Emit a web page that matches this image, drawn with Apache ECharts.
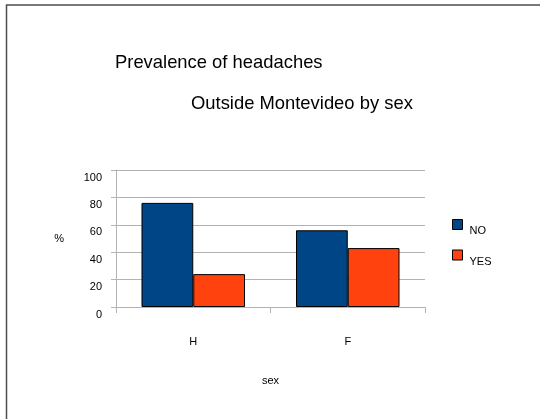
<!DOCTYPE html>
<html>
<head>
<meta charset="utf-8">
<script src="https://cdn.jsdelivr.net/npm/echarts@6/dist/echarts.min.js"></script>
<style>
  html, body { margin: 0; padding: 0; background: #fff; }
  #chart { width: 540px; height: 419px; }
</style>
</head>
<body>
<div id="chart"></div>
<script>
// 数据
const categories = ['H', 'F']
const seriesNames = ['NO', 'YES']
const noValues = [76, 56]
const yesValues = [24, 43]
const yTicks = [0, 20, 40, 60, 80, 100]

const font = "'Liberation Sans', Arial, sans-serif"
const gridColor = '#b3b3b3'

const myChart = echarts.init(document.getElementById('chart'))

const option = {
  backgroundColor: '#fff',
  animation: false,
  textStyle: { fontFamily: font, color: '#000' },
  title: [
    {
      text: 'Prevalence of headaches',
      left: 115,
      top: 54,
      padding: 0,
      textStyle: { fontFamily: font, fontSize: 18.4, fontWeight: 'normal', color: '#000' }
    },
    {
      text: 'Outside Montevideo by sex',
      left: 191,
      top: 95,
      padding: 0,
      textStyle: { fontFamily: font, fontSize: 18.4, fontWeight: 'normal', color: '#000' }
    }
  ],
  // 外框
  graphic: [
    {
      type: 'rect',
      shape: { x: 6.5, y: 5, width: 600, height: 500 },
      style: { fill: 'none', stroke: '#4d4d4d', lineWidth: 1.5 },
      silent: true
    }
  ],
  legend: {
    orient: 'vertical',
    left: 452,
    top: 219,
    itemWidth: 10,
    itemHeight: 10,
    itemGap: 13,
    padding: 0,
    icon: 'rect',
    data: seriesNames,
    itemStyle: { borderColor: '#000', borderWidth: 1 },
    formatter: '{t|{name}}',
    textStyle: {
      fontFamily: font,
      fontSize: 11,
      color: '#000',
      rich: {
        t: { fontFamily: font, fontSize: 11, color: '#000', padding: [13, 0, 0, 2] }
      }
    }
  },
  grid: {
    left: 116,
    right: 115,
    top: 170,
    bottom: 112,
    containLabel: false
  },
  xAxis: {
    type: 'category',
    data: categories,
    name: 'sex',
    nameLocation: 'middle',
    nameGap: 68,
    nameTextStyle: { fontFamily: font, fontSize: 11, color: '#000' },
    axisLine: { lineStyle: { color: gridColor, width: 1 } },
    axisTick: { show: true, length: 6, lineStyle: { color: gridColor } },
    axisLabel: { fontFamily: font, fontSize: 11, color: '#000', margin: 29 }
  },
  yAxis: {
    type: 'value',
    min: yTicks[0],
    max: yTicks[yTicks.length - 1],
    interval: 20,
    name: '%',
    nameLocation: 'middle',
    nameRotate: 0,
    nameGap: 52,
    nameTextStyle: { fontFamily: font, fontSize: 11, color: '#000', padding: [0, 0, 7, 0] },
    axisLine: { show: true, lineStyle: { color: gridColor, width: 1 } },
    axisTick: { show: true, length: 5, lineStyle: { color: gridColor } },
    axisLabel: {
      fontFamily: font,
      fontSize: 11,
      color: '#000',
      margin: 14,
      verticalAlign: 'top',
      padding: [2, 0, 0, 0]
    },
    splitLine: { show: true, lineStyle: { color: gridColor, width: 1 } }
  },
  series: [
    {
      name: seriesNames[0],
      type: 'bar',
      data: noValues,
      barGap: '0%',
      barCategoryGap: '33%',
      itemStyle: { color: '#004586', borderColor: '#000', borderWidth: 1 }
    },
    {
      name: seriesNames[1],
      type: 'bar',
      data: yesValues,
      itemStyle: { color: '#ff420e', borderColor: '#000', borderWidth: 1 }
    }
  ]
}

option && myChart.setOption(option)
</script>
</body>
</html>
